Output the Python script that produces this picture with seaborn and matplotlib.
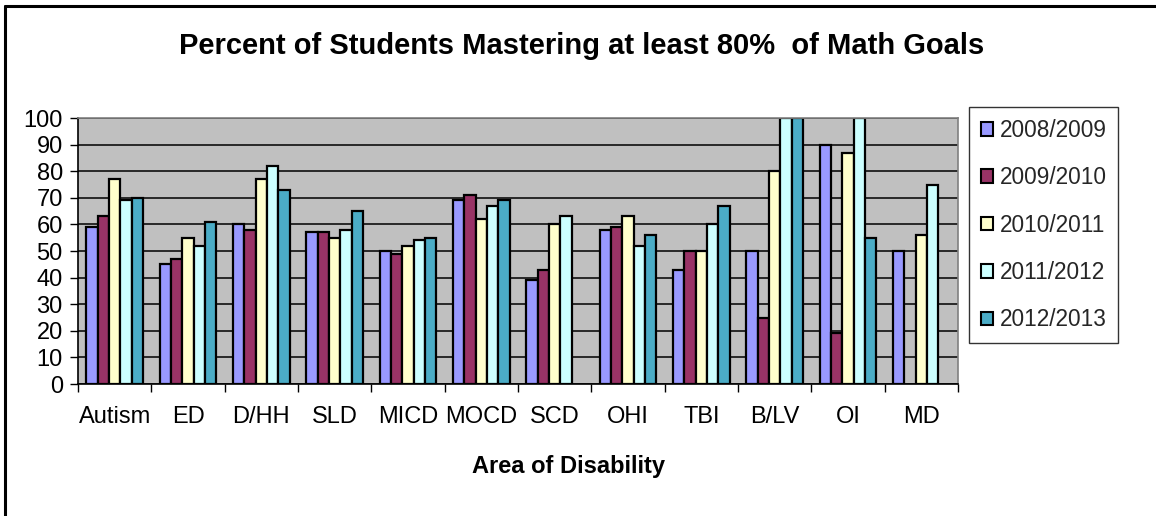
import numpy as np
import pandas as pd
import matplotlib
matplotlib.use("Agg")
import matplotlib.pyplot as plt
from matplotlib.lines import Line2D
import seaborn as sns

categories = ["Autism", "ED", "D/HH", "SLD", "MICD", "MOCD", "SCD", "OHI", "TBI", "B/LV", "OI", "MD"]
years = ["2008/2009", "2009/2010", "2010/2011", "2011/2012", "2012/2013"]

y2008_2009 = [59, 45, 60, 57, 50, 69, 39, 58, 43, 50, 90, 50]
y2009_2010 = [63, 47, 58, 57, 49, 71, 43, 59, 50, 25, 19, np.nan]
y2010_2011 = [77, 55, 77, 55, 52, 62, 60, 63, 50, 80, 87, 56]
y2011_2012 = [69, 52, 82, 58, 54, 67, 63, 52, 60, 100, 100, 75]
y2012_2013 = [70, 61, 73, 65, 55, 69, np.nan, 56, 67, 100, 55, np.nan]

colors = ["#9999FF", "#993366", "#FFFFCC", "#CCFFFF", "#4BACC6"]

series = [y2008_2009, y2009_2010, y2010_2011, y2011_2012, y2012_2013]
df = pd.DataFrame({
    "Area": np.tile(categories, len(years)),
    "Year": np.repeat(years, len(categories)),
    "Percent": np.concatenate([np.asarray(s, dtype=float) for s in series]),
})

sns.set_theme(style="white")
plt.rcParams["font.family"] = ["Liberation Sans", "DejaVu Sans"]

fig = plt.figure(figsize=(11.56, 5.16), dpi=100)
ax = fig.add_axes([0.0675, 0.2558, 0.7612, 0.5155])
ax.set_facecolor("#C0C0C0")

sns.barplot(data=df, x="Area", y="Percent", hue="Year", order=categories,
            hue_order=years, palette=colors, saturation=1, width=0.77,
            edgecolor="black", linewidth=1.6, ax=ax, legend=True)

ax.set_ylim(0, 100)
ax.set_xlim(-0.5, len(categories) - 0.5)
ax.set_yticks(range(0, 101, 10))
ax.yaxis.grid(True, color="black", linewidth=1.1)
ax.set_axisbelow(True)
ax.tick_params(axis="y", labelsize=17, length=6, width=1, color="black",
               direction="out", left=True, pad=5)
ax.tick_params(axis="x", which="major", labelsize=17, length=0, pad=16)
ax.set_xticks(np.arange(-0.5, len(categories), 1.0), minor=True)
ax.tick_params(axis="x", which="minor", length=6, width=1, color="black",
               direction="out", bottom=True)
for lbl in ax.get_yticklabels() + ax.get_xticklabels():
    lbl.set_color("black")

for side in ["top", "right"]:
    ax.spines[side].set_color("#808080")
    ax.spines[side].set_linewidth(1.2)
ax.spines["left"].set_color("black")
ax.spines["bottom"].set_color("black")
ax.spines["left"].set_linewidth(1.2)
ax.spines["bottom"].set_linewidth(1.2)

ax.set_ylabel("")
ax.set_xlabel("")
fig.text(568 / 1156, 1 - 466 / 516, "Area of Disability", ha="center", va="center",
         fontsize=17, fontweight="bold", color="black")

fig.text(0.503, 1 - 46 / 516, "Percent of Students Mastering at least 80%  of Math Goals",
         ha="center", va="center", fontsize=21, fontweight="bold", color="black")

leg = ax.legend(loc="upper left", bbox_to_anchor=(1.013, 1.04), frameon=True,
                fancybox=False, edgecolor="black", fontsize=16.3,
                handlelength=0.55, handleheight=0.55, handletextpad=0.3,
                labelspacing=1.08, borderpad=0.5, borderaxespad=0)
leg.get_frame().set_linewidth(1.0)
for h in leg.legend_handles:
    h.set_edgecolor("black")
    h.set_linewidth(1.5)

# outer chart frame along the top and left edges
fig.add_artist(Line2D([0.0045, 0.0045], [0.0, 0.989], color="black", linewidth=2.2))
fig.add_artist(Line2D([0.0045, 1.0], [0.989, 0.989], color="black", linewidth=2.2))

fig.savefig("out.png", dpi=100, facecolor="white")
